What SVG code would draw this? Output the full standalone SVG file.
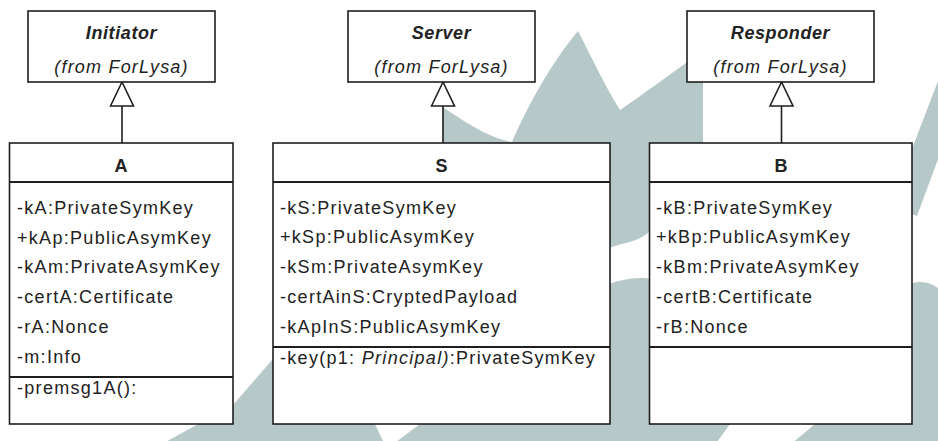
<svg xmlns="http://www.w3.org/2000/svg" width="938" height="441" viewBox="0 0 938 441">
  <defs>
    <style>
      .wm{fill:#b7c8c8}
      .box{fill:#fff;stroke:#1e1e1e;stroke-width:1.6}
      .sep{stroke:#1e1e1e;stroke-width:1.8}
      .edge{fill:none;stroke:#1e1e1e;stroke-width:1.6}
      .t{font-family:"Liberation Sans",Arial,sans-serif;font-size:18px;fill:#222;letter-spacing:1.3px}
      .title{font-weight:bold;font-style:italic;text-anchor:middle;letter-spacing:0.6px}
      .from{font-style:italic;text-anchor:middle;letter-spacing:1.2px}
      .name{font-weight:bold;text-anchor:middle;letter-spacing:0}
      .it{font-style:italic}
    </style>
    <!-- hollow triangle for generalization -->
    <marker id="gen" viewBox="0 0 24 24" refX="24" refY="12" markerWidth="24" markerHeight="24" markerUnits="userSpaceOnUse" orient="auto" overflow="visible">
      <path d="M0,0.5 L24,12 L0,23.5 Z" fill="#fff" stroke="#1e1e1e" stroke-width="1.6"/>
    </marker>
  </defs>

  <rect width="938" height="441" fill="#fff"/>

  <!-- background watermark -->
  <g id="watermark">
    <path class="wm" d="M443,107 C462,120 488,138 512,142 C528,105 552,62 578,31 C592,58 606,88 620,110 C642,95 665,78 690,60 L703,60 L703,150 L443,150 Z"/>
    <path class="wm" d="M943,68 L960,68 L960,100 L917,216 L890,206 Z"/>
    <path class="wm" d="M912,283 C925,280 935,285 940,290 L940,445 L912,445 Z"/>
    <path class="wm" d="M605,140 L655,140 L655,225 C640,245 625,240 605,250 Z"/>
    <path class="wm" d="M605,285 C620,280 640,275 655,280 L655,445 L605,445 Z"/>
    <path class="wm" d="M645,424 L730,424 L715,445 L645,445 Z"/>
    <path class="wm" d="M790,445 L815,424 L915,424 L915,445 Z"/>
    <path class="wm" d="M160,445 L233,405 L285,345 L330,330 L385,445 Z"/>
    <path class="wm" d="M392,445 L420,424 L640,424 L640,445 Z"/>
  </g>

  <!-- generalization connectors -->
  <g id="connectors">
    <path class="edge" d="M122,143 L122,82" marker-end="url(#gen)"/>
    <path class="edge" d="M443,143 L443,82" marker-end="url(#gen)"/>
    <path class="edge" d="M781.5,143 L781.5,82" marker-end="url(#gen)"/>
  </g>

  <g id="Initiator">
    <rect class="box" x="28" y="11" width="187" height="71"/>
    <text class="t title" x="121.5" y="39">Initiator</text>
    <text class="t from" x="121.5" y="73">(from ForLysa)</text>
  </g>

  <g id="Server">
    <rect class="box" x="348" y="11" width="187" height="71"/>
    <text class="t title" x="441.5" y="39">Server</text>
    <text class="t from" x="441.5" y="73">(from ForLysa)</text>
  </g>

  <g id="Responder">
    <rect class="box" x="687" y="11" width="187" height="71"/>
    <text class="t title" x="780.5" y="39">Responder</text>
    <text class="t from" x="780.5" y="73">(from ForLysa)</text>
  </g>

  <g id="A">
    <rect class="box" x="9.5" y="143" width="223.5" height="281"/>
    <line class="sep" x1="9.5" y1="182" x2="233" y2="182"/>
    <line class="sep" x1="9.5" y1="377" x2="233" y2="377"/>
    <text class="t name" x="121" y="172">A</text>
    <text class="t" x="17" y="214">-kA:PrivateSymKey</text>
    <text class="t" x="17" y="244">+kAp:PublicAsymKey</text>
    <text class="t" x="17" y="273">-kAm:PrivateAsymKey</text>
    <text class="t" x="17" y="303">-certA:Certificate</text>
    <text class="t" x="17" y="333">-rA:Nonce</text>
    <text class="t" x="17" y="363">-m:Info</text>
    <text class="t" x="17" y="394">-premsg1A():</text>
  </g>

  <g id="S">
    <rect class="box" x="273" y="143" width="337" height="281"/>
    <line class="sep" x1="273" y1="182" x2="610" y2="182"/>
    <line class="sep" x1="273" y1="347" x2="610" y2="347"/>
    <text class="t name" x="441.5" y="172">S</text>
    <text class="t" x="280" y="213.5">-kS:PrivateSymKey</text>
    <text class="t" x="280" y="243">+kSp:PublicAsymKey</text>
    <text class="t" x="280" y="273">-kSm:PrivateAsymKey</text>
    <text class="t" x="280" y="303">-certAinS:CryptedPayload</text>
    <text class="t" x="280" y="333">-kApInS:PublicAsymKey</text>
    <text class="t" x="280" y="364">-key(p1: <tspan class="it">Principal)</tspan>:PrivateSymKey</text>
  </g>

  <g id="B">
    <rect class="box" x="649.5" y="143" width="262.5" height="281"/>
    <line class="sep" x1="649.5" y1="182" x2="912" y2="182"/>
    <line class="sep" x1="649.5" y1="347" x2="912" y2="347"/>
    <text class="t name" x="781" y="172">B</text>
    <text class="t" x="656" y="213.5">-kB:PrivateSymKey</text>
    <text class="t" x="656" y="243">+kBp:PublicAsymKey</text>
    <text class="t" x="656" y="273">-kBm:PrivateAsymKey</text>
    <text class="t" x="656" y="303">-certB:Certificate</text>
    <text class="t" x="656" y="333">-rB:Nonce</text>
  </g>
</svg>
